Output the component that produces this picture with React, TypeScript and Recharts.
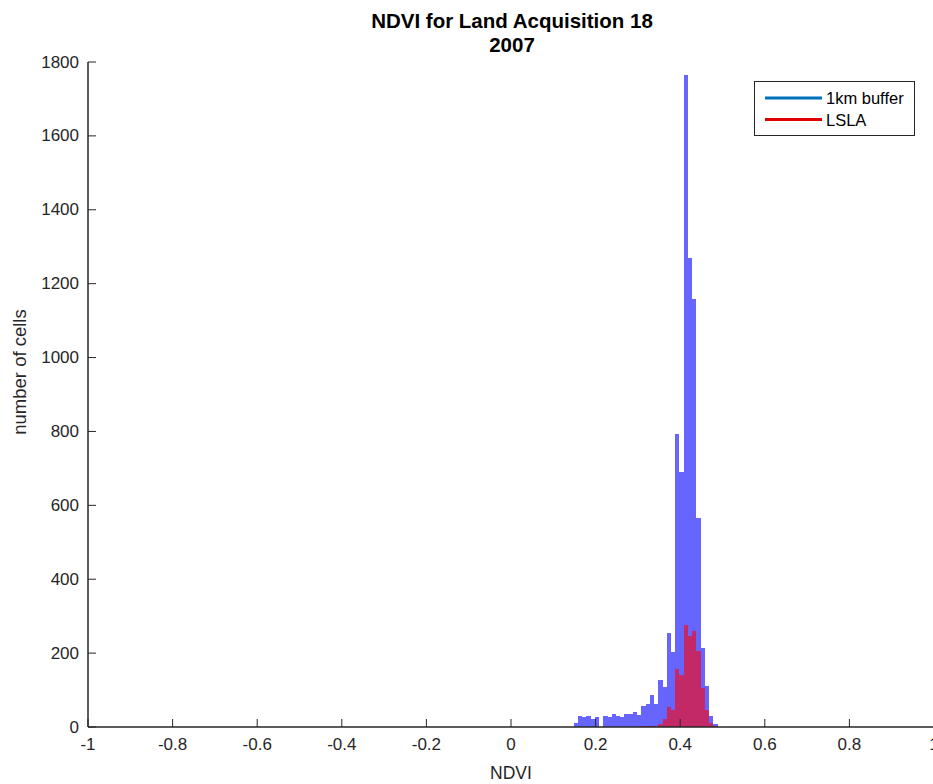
import React from 'react';
import { BarChart, Bar, XAxis, YAxis, Legend } from 'recharts';

// ---- data ----
const binCenters = [
  0.1535, 0.1635, 0.1735, 0.1835, 0.1935, 0.2035, 0.2135, 0.2235, 0.2335, 0.2435,
  0.2535, 0.2635, 0.2735, 0.2835, 0.2935, 0.3035, 0.3135, 0.3235, 0.3335, 0.3435,
  0.3535, 0.3635, 0.3735, 0.3835, 0.3935, 0.4035, 0.4135, 0.4235, 0.4335, 0.4435,
  0.4535, 0.4635, 0.4735, 0.4835,
];
const bufferCounts = [
  10, 29, 28, 31, 22, 27, 0, 29, 27, 34,
  29, 27, 34, 36, 41, 32, 56, 62, 87, 62,
  126, 108, 254, 204, 793, 691, 1764, 1270, 1158, 566,
  214, 110, 29, 7,
];
const lslaCounts = [
  0, 0, 0, 0, 0, 0, 0, 0, 0, 0,
  0, 0, 0, 0, 0, 1, 2, 3, 4, 3,
  8, 22, 55, 45, 158, 140, 276, 245, 260, 205,
  105, 45, 12, 2,
];
const xTickValues = [-1, -0.8, -0.6, -0.4, -0.2, 0, 0.2, 0.4, 0.6, 0.8, 1];
const xTickLabels = ['-1', '-0.8', '-0.6', '-0.4', '-0.2', '0', '0.2', '0.4', '0.6', '0.8', '1'];
const yTickValues = [0, 200, 400, 600, 800, 1000, 1200, 1400, 1600, 1800];
const seriesNames = ['1km buffer', 'LSLA'];
const legendColors = ['#0072BD', '#E00000'];
const titleLines = ['NDVI for Land Acquisition 18', '2007'];
const xLabel = 'NDVI';
const yLabel = 'number of cells';

const data = binCenters.map((x, i) => ({ x, buffer: bufferCounts[i], lsla: lslaCounts[i] }));

const AXIS = '#262626';
const FONT = '"Liberation Sans", Arial, Helvetica, sans-serif';
const TICK_LEN = 8;
const BIN_PX = 4.23; // 0.01 NDVI on an 846px-wide axis spanning 2 units

const CrispBar = (props: any) => {
  const { x, y, width, height, fill, fillOpacity } = props;
  if (!height || height <= 0) return null;
  const cx = x + width / 2;
  return (
    <rect
      x={cx - BIN_PX / 2}
      y={y}
      width={BIN_PX}
      height={height}
      fill={fill}
      fillOpacity={fillOpacity}
      shapeRendering="crispEdges"
    />
  );
};

const BottomTick = (props: any) => {
  const { x, y, payload } = props;
  const idx = xTickValues.indexOf(payload.value);
  const label = idx >= 0 ? xTickLabels[idx] : String(payload.value);
  const axisY = y - 10;
  return (
    <g>
      <line x1={x} x2={x} y1={axisY} y2={axisY - TICK_LEN} stroke={AXIS} strokeWidth={1} />
      <text x={x} y={axisY + 17} textAnchor="middle" dominantBaseline="central" fontSize={17} fontFamily={FONT} fill={AXIS}>
        {label}
      </text>
    </g>
  );
};

const TopTick = (props: any) => {
  const { x, y } = props;
  return <line x1={x} x2={x} y1={y} y2={y + TICK_LEN} stroke={AXIS} strokeWidth={1} />;
};

const LeftTick = (props: any) => {
  const { x, y, payload } = props;
  const axisX = x + 9;
  return (
    <g>
      <line x1={axisX} x2={axisX + TICK_LEN} y1={y} y2={y} stroke={AXIS} strokeWidth={1} />
      <text x={x} y={y} textAnchor="end" dominantBaseline="central" fontSize={17} fontFamily={FONT} fill={AXIS}>
        {payload.value}
      </text>
    </g>
  );
};

const RightTick = (props: any) => {
  const { x, y } = props;
  return <line x1={x} x2={x - TICK_LEN} y1={y} y2={y} stroke={AXIS} strokeWidth={1} />;
};

const renderLegend = () => (
  <svg width={161} height={55} style={{ display: 'block' }}>
    <rect x={0.5} y={0.5} width={160} height={54} fill="#fff" stroke={AXIS} strokeWidth={1} />
    {seriesNames.map((name, i) => (
      <g key={name}>
        <line x1={11} x2={68} y1={17 + i * 21.5} y2={17 + i * 21.5} stroke={legendColors[i]} strokeWidth={3} />
        <text x={72} y={17 + i * 21.5} dominantBaseline="central" fontSize={16.5} fontFamily={FONT} fill="#000">
          {name}
        </text>
      </g>
    ))}
  </svg>
);

export default function App() {
  return (
    <div style={{ position: 'fixed', left: 0, top: 0, width: 933, height: 784, overflow: 'hidden', background: '#fff' }}>
      <BarChart
        width={960}
        height={784}
        data={data}
        margin={{ top: 62, right: 26, bottom: 0, left: 28 }}
        barCategoryGap={0}
        barGap={0}
      >
        <Bar
          xAxisId="b"
          yAxisId="l"
          dataKey="buffer"
          fill="#0000FF"
          fillOpacity={0.6}
          shape={CrispBar}
          isAnimationActive={false}
        />
        <Bar
          xAxisId="t"
          yAxisId="l"
          dataKey="lsla"
          fill="#FF0000"
          fillOpacity={0.6}
          shape={CrispBar}
          isAnimationActive={false}
        />
        <XAxis
          xAxisId="b"
          orientation="bottom"
          type="number"
          dataKey="x"
          domain={[-1, 1]}
          ticks={xTickValues}
          interval={0}
          height={57}
          tickSize={0}
          tickMargin={10}
          tickLine={false}
          axisLine={{ stroke: AXIS, strokeWidth: 1.5 }}
          tick={BottomTick}
          label={(p: any) => {
            const vb = p.viewBox || { x: 88, y: 727, width: 846, height: 57 };
            return (
              <text x={vb.x + vb.width / 2} y={vb.y + 46} textAnchor="middle" dominantBaseline="central" fontSize={17.5} fontFamily={FONT} fill={AXIS}>
                {xLabel}
              </text>
            );
          }}
        />
        <XAxis
          xAxisId="t"
          orientation="top"
          type="number"
          dataKey="x"
          domain={[-1, 1]}
          ticks={xTickValues}
          interval={0}
          height={0}
          tickSize={0}
          tickMargin={0}
          tickLine={false}
          axisLine={{ stroke: AXIS, strokeWidth: 1.5 }}
          tick={TopTick}
        />
        <YAxis
          yAxisId="l"
          orientation="left"
          type="number"
          domain={[0, 1800]}
          ticks={yTickValues}
          interval={0}
          width={60}
          tickSize={0}
          tickMargin={9}
          tickLine={false}
          axisLine={{ stroke: AXIS, strokeWidth: 1.5 }}
          tick={LeftTick}
          label={() => {
            const cx = 19;
            const cy = 372;
            return (
              <text x={cx} y={cy} transform={`rotate(-90 ${cx} ${cy})`} textAnchor="middle" dominantBaseline="central" fontSize={18.5} fontFamily={FONT} fill={AXIS}>
                {yLabel}
              </text>
            );
          }}
        />
        <YAxis
          yAxisId="r"
          orientation="right"
          type="number"
          domain={[0, 1800]}
          ticks={yTickValues}
          interval={0}
          width={0}
          tickSize={0}
          tickMargin={0}
          tickLine={false}
          axisLine={{ stroke: AXIS, strokeWidth: 1.5 }}
          tick={RightTick}
        />
        <Legend
          layout="vertical"
          align="center"
          verticalAlign="middle"
          wrapperStyle={{ left: 754, top: 81, width: 161, height: 55 }}
          content={renderLegend}
        />
      </BarChart>
      {titleLines.map((t, i) => (
        <div
          key={t}
          style={{
            position: 'absolute',
            left: 512,
            top: 10 + i * 24,
            transform: 'translateX(-50%)',
            whiteSpace: 'nowrap',
            fontFamily: FONT,
            fontWeight: 'bold',
            fontSize: 20.5,
            lineHeight: '22px',
            color: '#000',
          }}
        >
          {t}
        </div>
      ))}
    </div>
  );
}
